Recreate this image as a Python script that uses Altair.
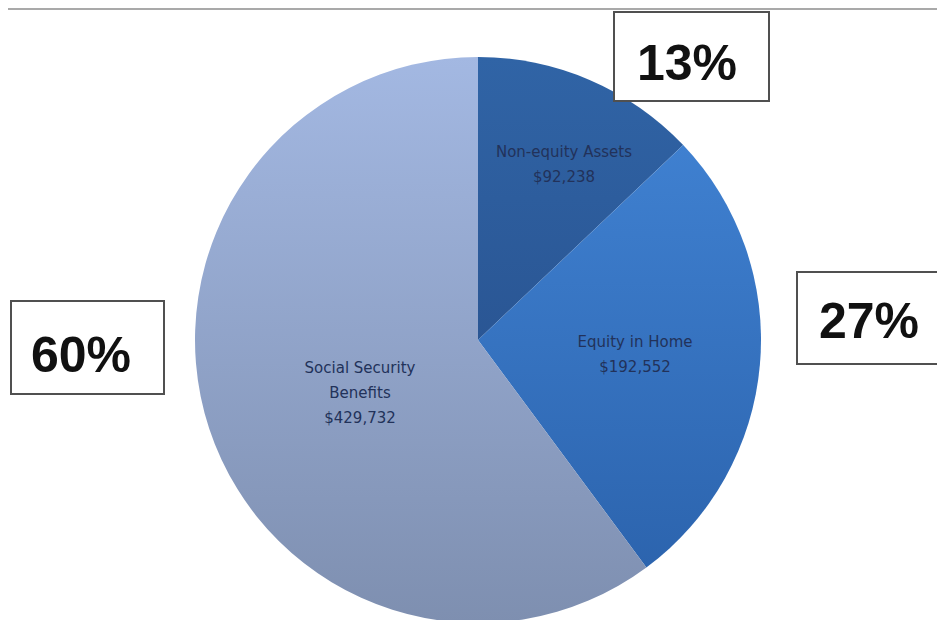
import altair as alt
import pandas as pd

# ---- data ----
categories = ["Non-equity Assets", "Equity in Home", "Social Security Benefits"]
values = [92238, 192552, 429732]
label_first = ["Non-equity Assets", "Equity in Home", "Social Security"]
label_second = ["", "", "Benefits"]

total = sum(values)
df = pd.DataFrame({
    "category": categories,
    "value": values,
    "order": list(range(len(categories))),
    "l1": label_first,
    "l2": label_second,
})

# ---- styles / layout ----
W, H = 929, 612
CX, CY, R = 470, 332, 283
gradients = {
    "Non-equity Assets": ("#3064a6", "#2a5694"),
    "Equity in Home": ("#3f80d0", "#2c64ae"),
    "Social Security Benefits": ("#a3b8e2", "#7e8fb0"),
}
inner_pos = {  # (center x, first line y)
    "Non-equity Assets": (556, 144),
    "Equity in Home": (627, 334),
    "Social Security Benefits": (352, 360),
}
box_pos = {  # (x1, y1, x2, y2) for percent boxes
    "Non-equity Assets": (606, 4, 761, 93),
    "Equity in Home": (789, 264, 945, 356),
    "Social Security Benefits": (3, 293, 156, 386),
}
pct_pos = {  # anchor (center x, baseline y)
    "Non-equity Assets": (679, 72),
    "Equity in Home": (861, 330),
    "Social Security Benefits": (73, 364),
}

base = alt.Chart(df).transform_window(
    cum="sum(value)", sort=[alt.SortField("order")], frame=[None, 0]
).transform_calculate(
    start="datum.cum - datum.value",
    pct="format(datum.value / %d * 100, '.0f') + '%%'" % total,
    money="'$' + format(datum.value, ',')",
)

theta_scale = alt.Scale(domain=[0, total], range=[0, 6.283185307])

layers = []
# top gray rule
layers.append(
    alt.Chart(df).mark_rule(color="#a9a9a9", strokeWidth=2).encode(
        x=alt.value(-8), x2=alt.value(W + 8), y=alt.value(1)
    ).transform_filter("datum.order == 0")
)

for cat in categories:
    c1, c2 = gradients[cat]
    grad = alt.Gradient(
        gradient="linear",
        stops=[alt.GradientStop(color=c1, offset=0), alt.GradientStop(color=c2, offset=1)],
        x1=0, x2=0, y1=0, y2=1,
    )
    arc = base.transform_filter(alt.datum.category == cat).mark_arc(
        color=grad, radius=R
    ).encode(
        theta=alt.Theta("start:Q", scale=theta_scale),
        theta2="cum:Q",
        x=alt.value(CX), y=alt.value(CY),
    )
    layers.append(arc)

for cat in categories:
    px, py = inner_pos[cat]
    lines = base.transform_filter(alt.datum.category == cat).transform_calculate(
        txt="datum.l2 == '' ? [datum.l1, datum.money] : [datum.l1, datum.l2, datum.money]"
    ).mark_text(
        font="DejaVu Sans", fontSize=15, color="#22325a", lineHeight=25,
        align="center", baseline="middle",
    ).encode(text="txt:N", x=alt.value(px), y=alt.value(py))
    layers.append(lines)

    x1, y1, x2, y2 = box_pos[cat]
    box = base.transform_filter(alt.datum.category == cat).mark_rect(
        fill="white", stroke="#505050", strokeWidth=2
    ).encode(x=alt.value(x1), x2=alt.value(x2), y=alt.value(y1), y2=alt.value(y2))
    layers.append(box)
    tx, ty = pct_pos[cat]
    pct = base.transform_filter(alt.datum.category == cat).mark_text(
        font="Liberation Sans", fontWeight="bold", fontSize=50, color="#111111",
        align="center", baseline="alphabetic",
    ).encode(text="pct:N", x=alt.value(tx), y=alt.value(ty))
    layers.append(pct)

chart = alt.layer(*layers).properties(
    width=W, height=H, autosize=alt.AutoSizeParams(type="none"), padding=0
).configure_view(stroke=None)

chart.save("out.html", embed_options={"renderer": "svg", "actions": False})
